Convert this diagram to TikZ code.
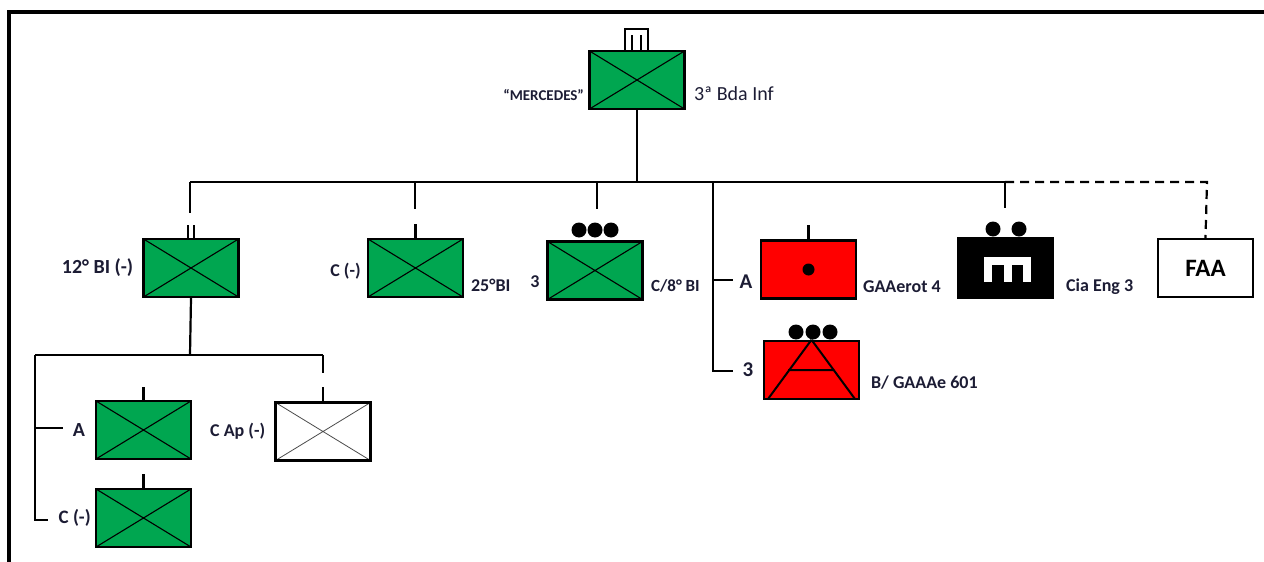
\documentclass[tikz,border=0pt]{standalone}
\usepackage{fontspec}
\setmainfont{Carlito}
\usepackage{tikz}
\usetikzlibrary{positioning}
\definecolor{UnitGreen}{HTML}{00A650}
\definecolor{UnitRed}{HTML}{FF0000}
\definecolor{LabelInk}{HTML}{1C1C34}

\begin{document}
\begin{tikzpicture}[x=1pt,y=-1pt,node distance=4pt,line width=2.2pt]
  \tikzstyle{unit}=[draw,line width=2.4pt,minimum width=95pt,minimum height=58pt,
    inner sep=0pt]
  \tikzstyle{cross}=[unit,fill=UnitGreen,path picture={
    \draw[line width=1.1pt] (path picture bounding box.north west)--(path picture bounding box.south east)
      (path picture bounding box.south west)--(path picture bounding box.north east);}]
  \tikzstyle{lightcross}=[unit,fill=white,path picture={
    \draw[line width=0.8pt,black!70] (path picture bounding box.north west)--(path picture bounding box.south east)
      (path picture bounding box.south west)--(path picture bounding box.north east);}]
  \tikzstyle{lbl}=[text=LabelInk,inner sep=0pt,font=\bfseries\fontsize{18}{18}\selectfont]
  \tikzstyle{biglbl}=[text=LabelInk,inner sep=0pt,font=\bfseries\fontsize{21}{21}\selectfont]
  \tikzstyle{dot}=[fill=black,draw=none]
  \useasboundingbox (0,0) rectangle (1264,562);
  % frame
  \draw[line width=4pt] (9,562)--(9,11.5)--(1264,11.5);
  % units
  \node[cross] (hq) at (637,80) {};
  \node[cross] (bi12) at (191,268) {};
  \node[cross] (bi25) at (415.5,268) {};
  \node[cross] (c8) at (595,270.5) {};
  \node[unit,fill=UnitRed] (gaa4) at (808.5,269.5) {};
  \node[unit,fill=UnitRed] (gaaae) at (811.5,370) {};
  \node[unit,fill=black,minimum height=60pt] (eng) at (1005.5,268) {};
  \node[unit,fill=white] (faa) at (1205.5,268) {\bfseries\fontsize{25}{25}\selectfont FAA};
  \node[cross] (ca) at (143.5,430) {};
  \node[lightcross] (cap) at (323,431.5) {};
  \node[cross] (cc) at (143.5,518) {};
  % labels
  \node[lbl,font=\bfseries\fontsize{15}{15}\selectfont,anchor=east] (mer) at (585,95) {``MERCEDES''};
  \node[text=LabelInk,inner sep=0pt,font=\fontsize{20}{20}\selectfont,anchor=west] (bda) at (693,94) {3ª Bda Inf};
  \node[lbl,font=\bfseries\fontsize{20}{20}\selectfont,left=8pt of bi12] (l12) {12° BI (-)};
  \node[lbl,left=5pt of bi25,yshift=-3pt] (l25a) {C (-)};
  \node[lbl,anchor=west] (l25b) at (470,285) {25°BI};
  \node[lbl] (l8a) at (535,282) {3};
  \node[lbl,anchor=west,font=\bfseries\fontsize{17}{17}\selectfont] (l8b) at (650,286) {C/8° BI};
  \node[biglbl] (la) at (746,282) {A};
  \node[lbl,anchor=west] (lg4) at (862,287) {GAAerot 4};
  \node[biglbl] (l3) at (748,370) {3};
  \node[lbl,anchor=west] (lg601) at (870,383) {B/ GAAAe 601};
  \node[lbl,anchor=west] (leng) at (1065,287) {Cia Eng 3};
  \node[biglbl,font=\bfseries\fontsize{20}{20}\selectfont] (lca) at (79,430) {A};
  \node[lbl,left=8pt of cap] (lcap) {C Ap (-)};
  \node[lbl,font=\bfseries\fontsize{19}{19}\selectfont,left=3pt of cc] (lcc) {C (-)};
  % echelon marks
  \draw[line width=2pt] (625,51) rectangle (648,29);
  \draw[line width=1.6pt] (632,35)--(632,51) (641,35)--(641,51);
  \foreach \x in {579,595,611} \fill[dot] (\x,230) circle (7.5pt);
  \foreach \x in {796,813,830} \fill[dot] (\x,332) circle (7.5pt);
  \foreach \x in {993,1019} \fill[dot] (\x,229) circle (7.5pt);
  % unit signs
  \fill[black] (gaa4.center) circle (6pt);
  \draw[line width=2pt] (gaaae.north)--(768,399) (gaaae.north)--(855,399) (788,370)--(834,370);
  \draw[white,line width=8pt] (988,282)--(988,260.5)--(1027,260.5)--(1027,282) (1008,260.5)--(1008,282);
  % bus
  \coordinate (top) at (637,182);
  \coordinate (bl) at (190,182);
  \coordinate (be) at (1005,182);
  \coordinate (bf) at (1207,182);
  \draw (hq.south)--(top);
  \draw (bl)--(be);
  \draw[dashed,dash pattern=on 9pt off 6pt] (be)--(bf)--(faa.north);
  \draw (bl)--(190,213);
  \draw (188,225)--([xshift=-3pt]bi12.north) (194,225)--([xshift=3pt]bi12.north);
  \draw (415,182)--(415,209) (bi25.north)--++(0,-14);
  \draw (597,182)--(597,209);
  \draw (713,182)--(713,371)--(733,371) (713,280)--(733,280);
  \draw (gaa4.north)--++(0,-14);
  \draw (be)--(1005,208);
  % 12 BI subordinates
  \coordinate (sl) at (35,355);
  \coordinate (sr) at (323,355);
  \draw (bi12.south)--(190,355);
  \draw (sl)--(sr);
  \draw (sl)--(35,520)--(48,520) (35,428)--(63,428);
  \draw (sr)--(323,373) (cap.north)--++(0,-14);
  \draw (ca.north)--++(0,-13) (cc.north)--++(0,-14);
\end{tikzpicture}
\end{document}
